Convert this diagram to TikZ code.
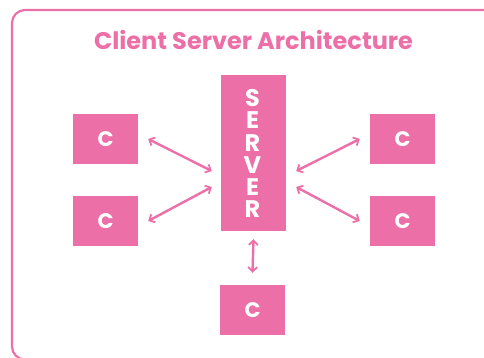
\documentclass[tikz,border=0pt]{standalone}
\usepackage{fontspec}
\setmainfont{Poppins}
\usetikzlibrary{arrows.meta,calc}
\definecolor{rose}{HTML}{EC6FA7}
\begin{document}
\begin{tikzpicture}[x=1pt,y=-1pt,
  box/.style={fill=rose,draw=none,minimum width=65pt,inner sep=0pt,text=white,font=\bfseries\fontsize{21}{21}\selectfont},
  letter/.style={text=white,font=\bfseries\fontsize{24}{24}\selectfont,inner sep=0pt,text height=16.5pt,text depth=0pt},
  link/.style={rose,line width=2.4pt,{Straight Barb[length=4.5pt,width=9pt,line width=1.8pt]}-{Straight Barb[length=4.5pt,width=9pt,line width=1.8pt]}}]
  \useasboundingbox (0,0) rectangle (484,358);
  \begin{scope}
    \clip (0,0) rectangle (484,358);
    \draw[rose,line width=2.2pt,rounded corners=13pt] (12,10) rectangle (520,359.5);
  \end{scope}
  \node[text=rose,font=\bfseries\fontsize{24}{24}\selectfont] (title) at (253.5,40) {Client Server Architecture};

  \node[box,minimum height=156pt] (server) at (253.5,153) {};
  \foreach \ch [count=\i] in {S,E,R,V,E,R}
    \node[letter] (s\i) at (252.5,98.5+22.2*\i-22.2) {\ch};

  \node[box,minimum height=50pt] (c1) at (105.5,139) {C};
  \node[box,minimum height=50pt] (c2) at (105.5,221) {C};
  \node[box,minimum height=50pt] (c3) at (402.5,139) {C};
  \node[box,minimum height=50pt] (c4) at (402.5,221) {C};
  \node[box,minimum height=50pt] (c5) at (252.5,310) {C};

  \draw[link] ($(c1.east)+(10,0)$) -- ($(server.west)+(-9,18)$);
  \draw[link] ($(c2.east)+(10,0)$) -- ($(server.west)+(-9,34)$);
  \draw[link] ($(c3.west)+(-10,0)$) -- ($(server.east)+(10,18)$);
  \draw[link] ($(c4.west)+(-10,0)$) -- ($(server.east)+(10,34)$);
  \draw[link] ($(server.south)+(0,8)$) -- ($(c5.north)+(0,-12)$);
\end{tikzpicture}
\end{document}
